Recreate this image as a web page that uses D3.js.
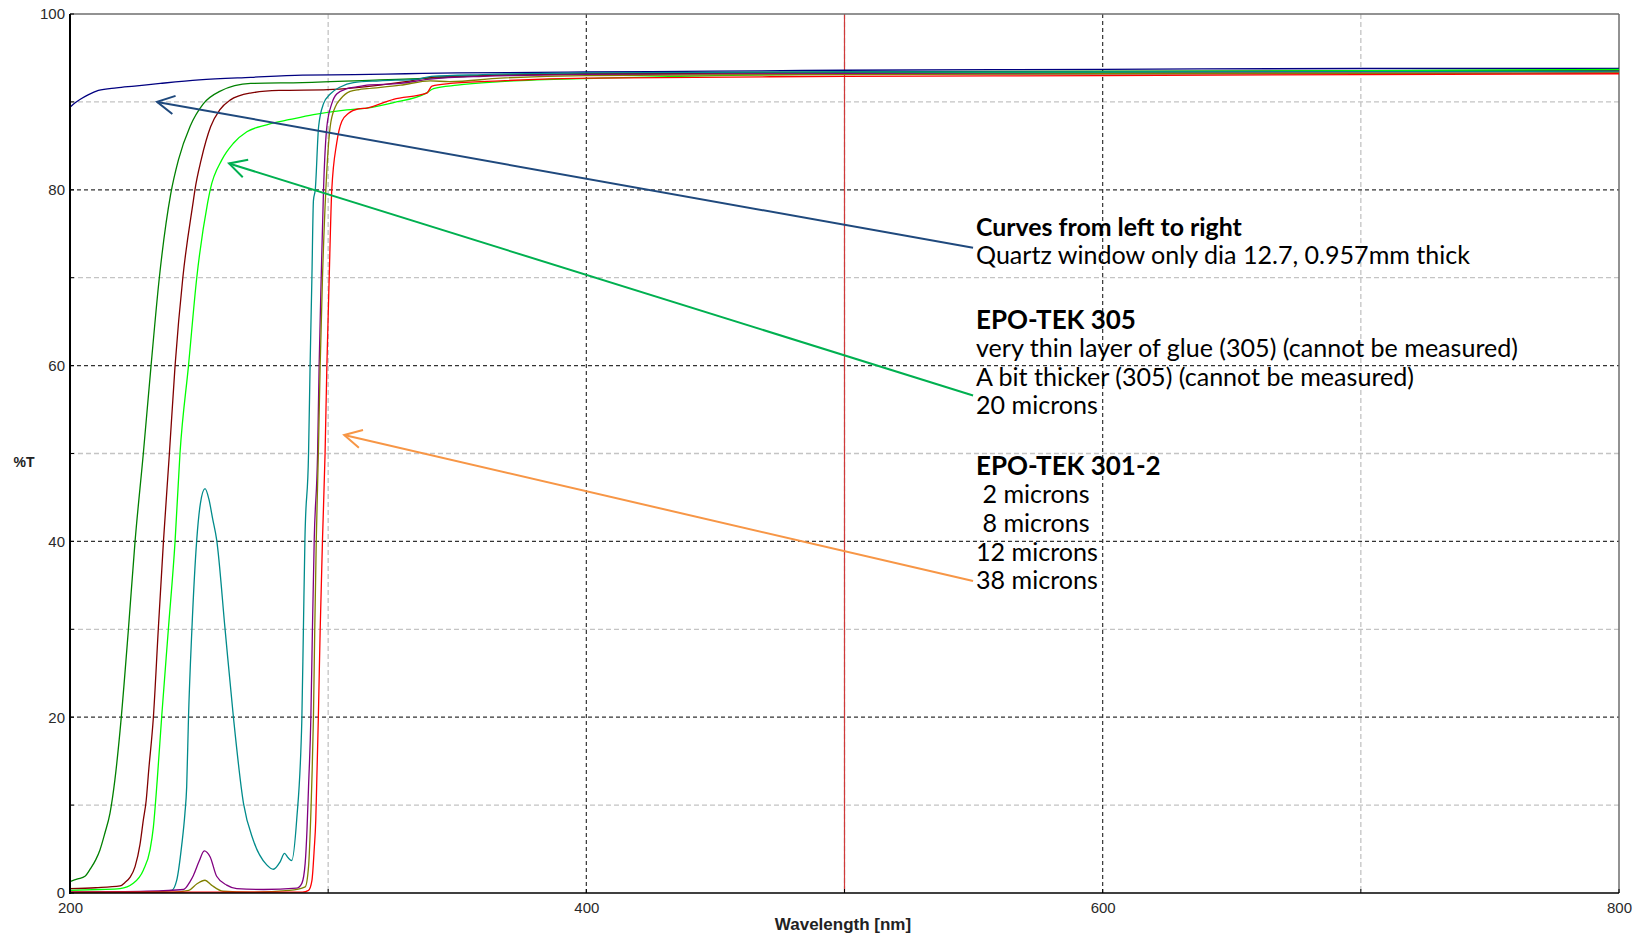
<!DOCTYPE html>
<html><head><meta charset="utf-8">
<script src="https://cdn.jsdelivr.net/npm/d3@7/dist/d3.min.js"></script>
<style>body{margin:0;background:#fff}svg{display:block}</style>
</head><body>
<svg id="chart" width="1637" height="933"></svg>
<script>
// ---------- data ----------
const xTicks = [200, 400, 600, 800];
const yTicks = [0, 20, 40, 60, 80, 100];
const xMinor = [300, 500, 700];
const yMinor = [10, 30, 50, 70, 90];
const markerWavelength = 500;

const quartz = [[200,89.4],[202,89.9],[204,90.3],[207,90.8],[211,91.3],[218,91.6],[225,91.8],[235,92.1],[250,92.5],[270,92.8],[290,93.05],[310,93.1],[330,93.2],[350,93.3],[400,93.4],[450,93.5],[500,93.6],[600,93.7],[700,93.8],[800,93.8]];
const thin305 = [[200,1.3],[203,1.6],[205.8,1.9],[208,2.8],[210,3.8],[211.6,4.9],[213.5,6.8],[215.5,9.1],[217.4,12.9],[219.4,18.5],[222.6,29.9],[225.2,40],[228.4,50],[231.4,60],[234.6,70],[239,79.5],[242,83.4],[246.5,87.2],[251.7,89.8],[258,91.2],[270,92.1],[290,92.2],[320,92.5],[340,92.7],[360,93.0],[400,93.2],[500,93.4],[600,93.5],[800,93.6]];
const thicker305 = [[200,0.5],[210,0.6],[219.4,0.8],[221.3,1.2],[223.3,1.8],[225.2,3.0],[227.1,5.5],[228.4,8.3],[229.5,10.5],[230.5,14],[232.3,20],[234.2,30],[236.2,40],[238.5,50],[240.7,60],[243.7,70],[247.8,78.8],[248.4,80],[250.8,83.4],[254.5,87.2],[258,89.1],[262,90.2],[269.8,91],[281,91.3],[300,91.4],[310,91.6],[320,91.9],[330,92.3],[340,92.8],[360,93.0],[400,93.2],[500,93.3],[600,93.4],[800,93.5]];
const microns20 = [[200,0.3],[211.6,0.4],[219.4,0.5],[224.5,1.1],[228.4,2.6],[231,4.9],[232.3,7.5],[233.8,12.9],[235.5,20],[238.1,30],[240.7,40],[242.6,50],[245.9,60],[249.1,70],[253.3,78.5],[254.3,80],[258.8,83.4],[263.3,85.3],[268.5,86.6],[276.2,87.4],[285.3,88.0],[294.3,88.55],[307.2,89.1],[315,89.3],[325,89.9],[338,91.0],[340.8,91.5],[350,91.9],[366.7,92.3],[405,92.7],[450,93.0],[500,93.2],[600,93.4],[800,93.7]];
const microns2 = [[200,0.1],[230,0.1],[239.4,0.3],[241.3,1.4],[243.3,5.5],[244.5,9],[245.2,12.1],[245.9,20],[247.2,29.9],[249.1,40.2],[250.5,44.3],[252.3,46],[253.8,44.8],[255.3,42.5],[256.8,40.2],[260.1,29.9],[263.3,20],[267.2,10.2],[271,6.0],[276.2,3.2],[278.8,2.7],[281.4,3.55],[283.1,4.5],[284.5,4.0],[285.9,3.7],[287.8,8.3],[289.8,19.7],[290.4,29.9],[291,40.2],[292.4,50],[293,60],[293.7,70],[294.3,78.8],[295,80],[296.3,87.2],[298.2,89.8],[300.8,90.9],[304.7,91.7],[309.8,92.2],[320,92.4],[335,92.6],[340,92.9],[360,93.1],[400,93.3],[500,93.4],[600,93.4],[800,93.5]];
const microns8 = [[200,0.1],[230,0.2],[244,0.4],[246.5,1.3],[247.8,2.0],[250,3.6],[252,4.8],[254.3,4.1],[256.8,1.9],[260.7,0.9],[264.6,0.5],[275,0.4],[287.8,0.55],[289.8,1.1],[291.1,3.4],[291.8,7.2],[292.4,12.1],[293.3,20],[293.9,29.9],[294.6,40.2],[295.9,50],[296.5,60],[297.3,70],[298.2,80],[299.5,87.2],[301.4,89.8],[303.3,90.9],[307.2,91.5],[311,91.7],[315,91.9],[328,92.1],[339.5,92.6],[360,92.9],[400,93.1],[500,93.2],[600,93.2],[800,93.3]];
const microns12 = [[200,0.05],[240,0.1],[246,0.3],[249.2,1.05],[252.3,1.45],[254.8,0.9],[259.3,0.2],[270,0.1],[285,0.3],[291.1,0.7],[292.4,3],[293.3,9.1],[293.7,12.9],[294.3,20],[294.8,29.9],[295.4,40.2],[296.2,50],[296.9,60],[297.8,70],[299.1,80],[300.8,87.2],[302.7,89.4],[304.7,90.3],[308.5,91.2],[312,91.4],[315,91.5],[328,91.9],[339.5,92.4],[347,92.3],[366.7,92.7],[400,93.0],[500,93.1],[600,93.2],[800,93.3]];
const microns38 = [[200,0.1],[290,0.1],[292.4,0.3],[293.7,1.4],[294.6,5],[295.2,8.3],[295.6,12.9],[296.2,20],[296.9,29.9],[297.8,40.2],[298.8,50],[299.5,60],[300.4,70],[301.4,80],[303.3,85.3],[305.3,87.8],[307.9,88.7],[311.7,89.2],[315,89.3],[325.3,90.3],[338.2,91],[340.2,91.8],[347.3,92.1],[366.7,92.4],[401.6,92.7],[500,92.9],[600,93.0],[800,93.2]];

const seriesData = [quartz, thin305, thicker305, microns20, microns2, microns8, microns12, microns38];
const seriesColors = ["#000080", "#008000", "#800000", "#00ff00", "#008b8b", "#800080", "#808000", "#ff0000"];

const noteLines = [
  "Curves from left to right",
  "Quartz window only dia 12.7, 0.957mm thick",
  "EPO-TEK 305",
  "very thin layer of glue (305) (cannot be measured)",
  "A bit thicker (305) (cannot be measured)",
  "20 microns",
  "EPO-TEK 301-2",
  " 2 microns",
  " 8 microns",
  "12 microns",
  "38 microns"
];
const noteStyles = ["head", "reg", "big", "reg", "reg", "reg", "big", "reg", "reg", "reg", "reg"];

// arrows: tail at annotation (data coords), tip at curve (data coords)
const arrows = [
  {tail: [549.8, 73.4], tip: [233.7, 90.0], color: "#1f497d"},
  {tail: [549.8, 56.6], tip: [261.6, 83.0], color: "#00b050"},
  {tail: [549.8, 35.5], tip: [306.2, 52.1], color: "#f79646"}
];

const xLabel = "Wavelength [nm]";
const yLabel = "%T";

// ---------- drawing ----------
const svg = d3.select("#chart");
const L = 70, R = 1619, T = 14, B = 893;
const x = d3.scaleLinear().domain([200, 800]).range([L, R]);
const y = d3.scaleLinear().domain([0, 100]).range([B, T]);

const grid = svg.append("g");
grid.selectAll(".hmin").data(yMinor).join("line")
  .attr("x1", L).attr("x2", R).attr("y1", d => y(d)).attr("y2", d => y(d))
  .attr("stroke", "#c4c4c4").attr("stroke-width", 1.3).attr("stroke-dasharray", "5,3");
grid.selectAll(".vmin").data(xMinor).join("line")
  .attr("y1", T).attr("y2", B).attr("x1", d => x(d)).attr("x2", d => x(d))
  .attr("stroke", "#c4c4c4").attr("stroke-width", 1.3).attr("stroke-dasharray", "5,3");
grid.selectAll(".hmaj").data(yTicks.filter(d => d > 0 && d < 100)).join("line")
  .attr("x1", L).attr("x2", R).attr("y1", d => y(d)).attr("y2", d => y(d))
  .attr("stroke", "#333").attr("stroke-width", 1.2).attr("stroke-dasharray", "4,3");
grid.selectAll(".vmaj").data(xTicks.filter(d => d > 200 && d < 800)).join("line")
  .attr("y1", T).attr("y2", B).attr("x1", d => x(d)).attr("x2", d => x(d))
  .attr("stroke", "#333").attr("stroke-width", 1.2).attr("stroke-dasharray", "4,3");

// marker line
svg.append("line").attr("x1", x(markerWavelength)).attr("x2", x(markerWavelength))
  .attr("y1", T).attr("y2", B).attr("stroke", "#d03a3a").attr("stroke-width", 1.2);

// frame
svg.append("line").attr("x1", L).attr("x2", R).attr("y1", T).attr("y2", T).attr("stroke", "#6e6e6e").attr("stroke-width", 1.5);
svg.append("line").attr("x1", R).attr("x2", R).attr("y1", T).attr("y2", B).attr("stroke", "#6e6e6e").attr("stroke-width", 1.5);

// curves
const line = d3.line().x(d => x(d[0])).y(d => y(d[1])).curve(d3.curveMonotoneX);
svg.append("g").selectAll("path").data(seriesData).join("path")
  .attr("d", line).attr("fill", "none")
  .attr("stroke", (d, i) => seriesColors[i]).attr("stroke-width", 1.3).attr("stroke-linejoin", "round");

// axes
const fontAxis = "'Liberation Sans', Arial, sans-serif";
const yAxis = d3.axisLeft(y).tickValues(yTicks).tickSize(0).tickPadding(5);
const gy = svg.append("g").attr("transform", `translate(${L},0)`).call(yAxis);
gy.select(".domain").remove();
gy.selectAll("text").attr("font-size", 15).attr("font-family", fontAxis).attr("fill", "#2a2a2a");

const xAxis = d3.axisBottom(x).tickValues(xTicks).tickSize(0).tickPadding(9);
const gx = svg.append("g").attr("transform", `translate(0,${B})`).call(xAxis);
gx.select(".domain").remove();
gx.selectAll("text").attr("font-size", 15).attr("font-family", fontAxis).attr("fill", "#2a2a2a");

// inner ticks
svg.append("g").selectAll("line").data(d3.range(0, 101, 10)).join("line")
  .attr("x1", L).attr("x2", L + 4).attr("y1", d => y(d)).attr("y2", d => y(d)).attr("stroke", "#000");
svg.append("g").selectAll("line").data(d3.range(200, 801, 100)).join("line")
  .attr("y1", B).attr("y2", B - 4).attr("x1", d => x(d)).attr("x2", d => x(d)).attr("stroke", "#000");

svg.append("line").attr("x1", L).attr("x2", L).attr("y1", T).attr("y2", B + 1).attr("stroke", "#000").attr("stroke-width", 2);
svg.append("line").attr("x1", L).attr("x2", R).attr("y1", B).attr("y2", B).attr("stroke", "#000").attr("stroke-width", 1.5);

// axis titles
svg.append("text").text(xLabel).attr("x", 843).attr("y", 930)
  .attr("text-anchor", "middle").attr("font-family", fontAxis).attr("font-weight", "bold").attr("font-size", 17).attr("fill", "#222");
svg.append("text").text(yLabel).attr("x", 24).attr("y", 467)
  .attr("text-anchor", "middle").attr("font-family", fontAxis).attr("font-weight", "bold").attr("font-size", 14).attr("fill", "#222");

// arrows
const ag = svg.append("g");
arrows.forEach(a => {
  const tx = x(a.tail[0]), ty = y(a.tail[1]), px = x(a.tip[0]), py = y(a.tip[1]);
  ag.append("line").attr("x1", tx).attr("y1", ty).attr("x2", px).attr("y2", py)
    .attr("stroke", a.color).attr("stroke-width", 2);
  const ang = Math.atan2(ty - py, tx - px);
  const len = 19.5, spread = 28 * Math.PI / 180;
  const p1 = [px + len * Math.cos(ang - spread), py + len * Math.sin(ang - spread)];
  const p2 = [px + len * Math.cos(ang + spread), py + len * Math.sin(ang + spread)];
  ag.append("path").attr("d", `M${p1[0]},${p1[1]}L${px},${py}L${p2[0]},${p2[1]}`)
    .attr("fill", "none").attr("stroke", a.color).attr("stroke-width", 2);
});

// annotation text
const noteFont = "Lato, 'Open Sans', sans-serif";
const baselines = [235.8, 263.5, 328.8, 356.8, 386.0, 413.8, 474.8, 503.0, 531.8, 560.5, 589.2];
const targetW = {head: [0, 266], reg: [1, 494], big: [2, 160]};
const sizes = {};
Object.keys(targetW).forEach(k => {
  const t = svg.append("text").text(noteLines[targetW[k][0]]).attr("font-family", noteFont)
    .attr("font-weight", k === "reg" ? "normal" : "bold").attr("font-size", 20);
  const w = t.node().getComputedTextLength();
  sizes[k] = 20 * targetW[k][1] / w;
  t.remove();
});
svg.append("g").selectAll("text").data(noteLines).join("text")
  .text(d => d).attr("x", 976).attr("y", (d, i) => baselines[i])
  .style("white-space", "pre")
  .attr("font-family", noteFont)
  .attr("font-weight", (d, i) => noteStyles[i] === "reg" ? "normal" : "bold")
  .attr("font-size", (d, i) => sizes[noteStyles[i]].toFixed(2))
  .attr("fill", "#000");
</script>
</body></html>
